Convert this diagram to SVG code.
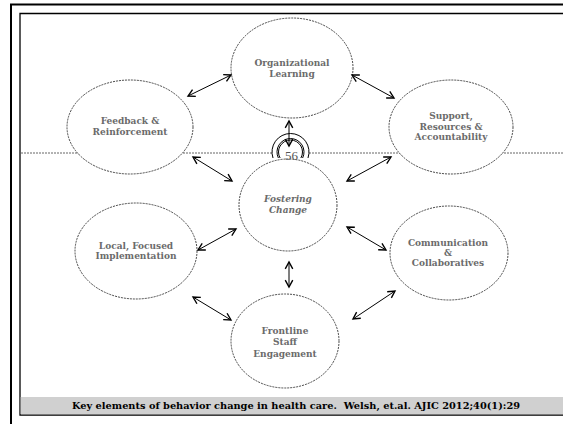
<svg xmlns="http://www.w3.org/2000/svg" width="563" height="424" viewBox="0 0 563 424">
<style>
.node{fill:#fff;stroke:#333;stroke-width:0.9;stroke-dasharray:2 1}
.lbl{font-family:"DejaVu Serif","Liberation Serif",serif;font-weight:bold;font-size:9px;fill:#6b6b6b;text-anchor:middle}
.it{font-style:italic}
.con{stroke:#000;stroke-width:1;fill:none;marker-start:url(#ah);marker-end:url(#ah)}
.guide{stroke:#666;stroke-width:1;stroke-dasharray:2 1;fill:none}
</style>
<defs>
<marker id="ah" markerUnits="userSpaceOnUse" markerWidth="10" markerHeight="10" refX="0" refY="0" viewBox="-6 -4 7 8" orient="auto-start-reverse">
<path d="M-5.5,-3 L0,0 L-5.5,3" fill="none" stroke="#000" stroke-width="1.1"/>
</marker>
</defs>
<rect width="563" height="424" fill="#fff"/>
<g id="frame">
<path d="M11,424 V4.5 H563" fill="none" stroke="#000" stroke-width="2"/>
<path d="M563,13.5 H20 V415 H563" fill="none" stroke="#000" stroke-width="1.3"/>
<rect x="20.7" y="397" width="542.3" height="17.4" fill="#d0d0d0"/>
</g>
<line class="guide" x1="21" y1="153" x2="563" y2="153"/>
<g id="organizational-learning">
<ellipse class="node" cx="292" cy="68" rx="61" ry="50"/>
<text class="lbl" x="292" y="66">Organizational</text>
<text class="lbl" x="292" y="77">Learning</text>
</g>
<g id="feedback-reinforcement">
<ellipse class="node" cx="130" cy="127" rx="63" ry="47"/>
<text class="lbl" x="130" y="124">Feedback &amp;</text>
<text class="lbl" x="130" y="134.5">Reinforcement</text>
</g>
<g id="support-resources-accountability">
<ellipse class="node" cx="451" cy="127" rx="62" ry="47"/>
<text class="lbl" x="451" y="119">Support,</text>
<text class="lbl" x="451" y="129.5">Resources &amp;</text>
<text class="lbl" x="451" y="140">Accountability</text>
</g>
<g id="fostering-change">
<ellipse class="node" cx="288" cy="205" rx="49" ry="46"/>
<text class="lbl it" x="288" y="202">Fostering</text>
<text class="lbl it" x="288" y="212.5">Change</text>
</g>
<g id="local-focused-implementation">
<ellipse class="node" cx="136" cy="251" rx="61" ry="48"/>
<text class="lbl" x="136" y="248.5">Local, Focused</text>
<text class="lbl" x="136" y="259">Implementation</text>
</g>
<g id="communication-collaboratives">
<ellipse class="node" cx="449" cy="253" rx="59" ry="47"/>
<text class="lbl" x="448" y="245.5">Communication</text>
<text class="lbl" x="448" y="255.5">&amp;</text>
<text class="lbl" x="448" y="265.5">Collaboratives</text>
</g>
<g id="frontline-staff-engagement">
<ellipse class="node" cx="285" cy="341" rx="54" ry="47"/>
<text class="lbl" x="285" y="334">Frontline</text>
<text class="lbl" x="285" y="345">Staff</text>
<text class="lbl" x="285" y="356.5">Engagement</text>
</g>
<g id="slide-number">
<path d="M273,158 A18.5,18.5 0 1 1 308,158 Z" fill="#fff" stroke="none"/>
<path d="M273,158 A18.5,18.5 0 1 1 308,158" fill="none" stroke="#000" stroke-width="1"/>
<path d="M278.4,158 A13.5,13.5 0 1 1 302.6,158" fill="none" stroke="#000" stroke-width="1"/>
<path d="M280.1,158 A12,12 0 1 1 300.9,158" fill="none" stroke="#000" stroke-width="1"/>
<text x="291.5" y="160" font-family="Liberation Serif,serif" font-size="13" fill="#555" text-anchor="middle">56</text>
</g>
<g id="connectors">
<line class="con" x1="188" y1="96" x2="231" y2="75"/>
<line class="con" x1="352" y1="75" x2="394" y2="98"/>
<line class="con" x1="289" y1="121" x2="289" y2="146"/>
<line class="con" x1="193" y1="157" x2="232" y2="181"/>
<line class="con" x1="347" y1="181" x2="391" y2="157"/>
<line class="con" x1="198" y1="250" x2="236" y2="229"/>
<line class="con" x1="347" y1="227" x2="386" y2="250"/>
<line class="con" x1="289" y1="262" x2="289" y2="287"/>
<line class="con" x1="193" y1="297" x2="231" y2="320"/>
<line class="con" x1="353" y1="319" x2="395" y2="291"/>
</g>
<text x="72" y="408.5" font-family="DejaVu Serif,Liberation Serif,serif" font-weight="bold" font-size="9.5" fill="#000" textLength="448" lengthAdjust="spacingAndGlyphs" xml:space="preserve">Key elements of behavior change in health care.  Welsh, et.al. AJIC 2012;40(1):29</text>
</svg>
